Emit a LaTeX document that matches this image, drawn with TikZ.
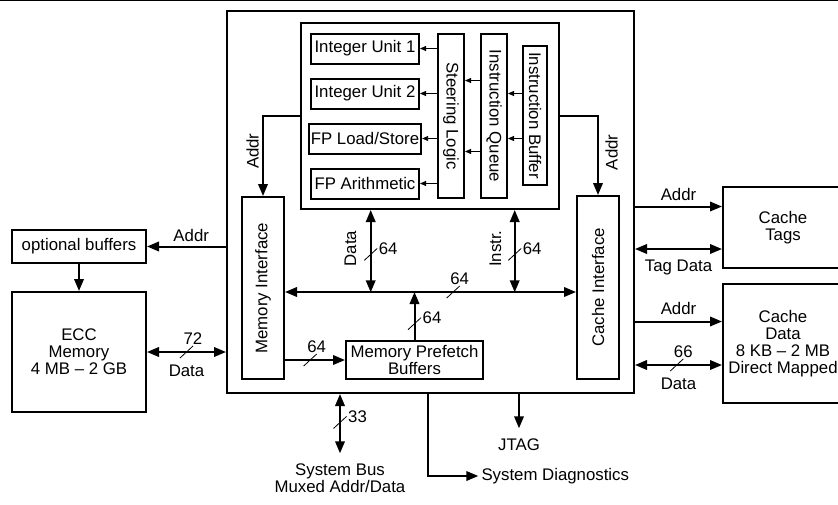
\documentclass[tikz,border=0pt]{standalone}
\usepackage{fontspec}
\setmainfont{Liberation Sans}
\usetikzlibrary{arrows.meta}

\begin{document}
\begin{tikzpicture}[
  x=1pt, y=-1pt,
  font=\fontsize{16.8}{17}\selectfont,
  >={Triangle[length=12pt,width=9.5pt]},
  box/.style={draw, line width=2pt, inner sep=2pt, align=center},
  unit/.style={box, minimum width=108pt, minimum height=30pt},
  lane/.style={box, minimum width=26pt, minimum height=164pt},
  flow/.style={->, line width=2pt},
  dflow/.style={<->, line width=2pt},
  feed/.style={-{Triangle[length=6pt,width=5pt]}, line width=0.9pt},
  wtick/.style={line width=0.8pt},
  wlabel/.style={inner sep=1.5pt},
  ext/.style={inner xsep=3pt, inner ysep=10pt, align=center},
]
\useasboundingbox (0,0) rectangle (838,504);
\draw[line width=1.2pt] (0,0.8) -- (838,0.8);

% processor and core
\node[box, minimum width=407pt, minimum height=382pt] (chip) at (430.5,202) {};
\node[box, minimum width=258pt, minimum height=186pt] (core) at (430,116) {};

\node[unit] (iu1) at (365,48.5) {Integer Unit 1};
\node[unit] (iu2) at (365,93.5) {Integer Unit 2};
\node[unit] (fpls) at (365,138.5) {FP Load/Store};
\node[unit] (fpar) at (365,183.5) {FP Arithmetic};
\node[lane] (steer) at (451,116) {\rotatebox{-90}{Steering Logic}};
\node[lane] (queue) at (494,116) {\rotatebox{-90}{Instruction Queue}};
\node[lane, minimum width=24pt, minimum height=139pt] (ibuf) at (535,115.5)
  {\rotatebox{-90}{Instruction Buffer}};

\node[box, minimum width=42pt, minimum height=182pt] (memif) at (263,288)
  {\rotatebox{90}{Memory Interface}};
\node[box, minimum width=42pt, minimum height=183pt] (cacheif) at (598,287.5)
  {\rotatebox{90}{Cache Interface}};
\node[box, minimum width=137pt, minimum height=38pt] (pref) at (414.5,360)
  {Memory Prefetch\\Buffers};

% outside the chip
\node[box, minimum width=134pt, minimum height=33pt] (optbuf) at (79,246.5) {optional buffers};
\node[box, minimum width=134pt, minimum height=120pt] (ecc) at (79,352)
  {ECC\\Memory\\4 MB \textendash{} 2 GB};
\node[box, minimum width=120pt, minimum height=81pt] (tags) at (783,227.5) {Cache\\Tags};
\node[box, minimum width=120pt, minimum height=119pt] (cdata) at (783,343.5)
  {Cache\\Data\\8 KB \textendash{} 2 MB\\Direct Mapped};

\node[ext, anchor=north] (sysbus) at (340,453.3) {System Bus\\Muxed Addr/Data};
\node[ext, anchor=north] (jtag) at (519,428.3) {JTAG};
\node[ext, anchor=west] (diag) at (478.3,476) {System Diagnostics};

% core internals
\foreach \u in {iu1,iu2,fpls,fpar}
  \draw[feed] (steer.west |- \u) -- (\u.east);
\foreach \u in {iu2,fpls}
  \draw[feed] (ibuf.west |- \u) -- (queue.east |- \u);
\foreach \dy in {35.5,-35.5}
  \draw[feed] ([yshift=\dy pt]queue.west) -- ([yshift=\dy pt]steer.east);

% addresses out of the core
\draw[flow] (core.west) -| node[pos=.72, rotate=90, anchor=south] {Addr} (memif.north);
\draw[flow] (core.east) -| node[pos=.73, xshift=3pt, rotate=90, anchor=north] {Addr} (cacheif.north);

% internal bus
\coordinate (busl) at ([yshift=-4pt]memif.east);
\coordinate (dtap) at (370.7,292.3);
\coordinate (itap) at (514.7,292.3);
\draw[dflow] (busl) -- coordinate[pos=.578] (wbus) (cacheif.west |- busl);
\draw[dflow] (core.south -| dtap) -- coordinate[pos=.54] (wdata)
  node[pos=.47, xshift=-10pt, rotate=90, anchor=south] {Data} (dtap);
\draw[dflow] (core.south -| itap) -- coordinate[pos=.54] (winstr)
  node[pos=.47, xshift=-9pt, rotate=90, anchor=south] {Instr.} (itap);
\draw[flow] (pref.north) -- coordinate[pos=.34] (wpref) (pref.north |- busl);
\draw[flow] (memif.east |- pref) -- coordinate[pos=.42] (wmem) (pref.west);

% memory side
\draw[flow] (chip.west |- optbuf) -- node[pos=.44, above=0.5pt] {Addr} (optbuf.east);
\draw[flow] (optbuf) -- (ecc);
\draw[dflow] (ecc.east) -- coordinate[pos=.5] (wecc)
  node[pos=.5, below=9pt] {Data} (chip.west |- ecc.east);

% cache side
\coordinate (ta) at ([yshift=21pt]tags.west);
\coordinate (td) at ([yshift=-21.5pt]tags.west);
\coordinate (da) at ([yshift=22pt]cdata.west);
\coordinate (dd) at ([yshift=-21.5pt]cdata.west);
\draw[flow] (chip.east |- ta) -- node[above=1.7pt] {Addr} (ta);
\draw[dflow] (chip.east |- td) -- node[below=6.4pt] {Tag Data} (td);
\draw[flow] (chip.east |- da) -- node[above=2.4pt] {Addr} (da);
\draw[dflow] (chip.east |- dd) -- coordinate[pos=.48] (wcd)
  node[below=8.4pt] {Data} (dd);

% system side
\draw[dflow] (chip.south -| sysbus) -- coordinate[pos=.48] (wsys) (sysbus.north);
\draw[flow] (chip.south -| jtag) -- (jtag.north);
\draw[flow] ([xshift=-3pt]chip.south) |- (diag.west);

% bus widths
\foreach \w/\n/\a in {wdata/64/west, winstr/64/west, wbus/64/south, wpref/64/west,
                      wmem/64/south, wecc/72/south, wsys/33/west, wcd/66/south} {
  \draw[wtick] ([shift={(-6.5pt,-6pt)}]\w) -- ([shift={(6.5pt,6pt)}]\w);
  \node[wlabel, anchor=\a] (n\w) at ([shift={(6.5pt,6pt)}]\w) {\n};
}

\end{tikzpicture}
\end{document}
